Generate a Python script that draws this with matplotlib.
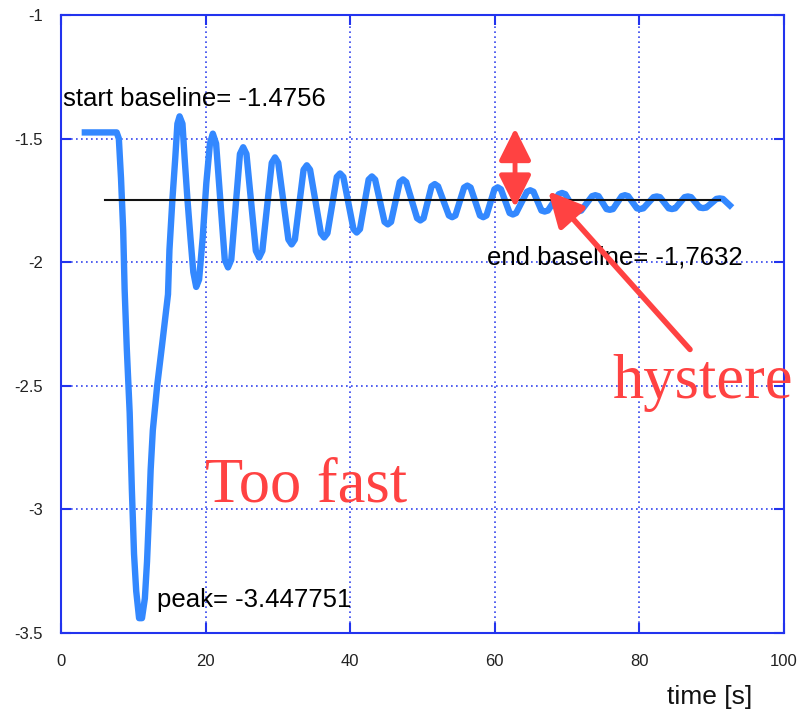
import matplotlib
matplotlib.use('Agg')
import matplotlib.pyplot as plt

# 読み取った波形（時間[s], 値）
time_s = [3.3, 7.7, 8.0, 8.3, 8.6, 8.8, 9.1, 9.5, 9.8, 10.1, 10.4, 10.8, 11.2,
          11.6, 11.9, 12.2, 12.4, 12.7, 13.3, 14.0, 14.8, 15.0, 15.4, 15.8, 16.1,
          16.4, 16.8, 17.1, 17.5, 17.9, 18.3, 18.7, 19.1, 19.6, 20.1, 20.6, 21.0, 21.45,
          22.65, 23.1, 23.55, 24.75, 25.2, 25.65, 26.95, 27.4, 27.85,
          29.15, 29.6, 30.05, 31.45, 31.9, 32.35, 33.55, 34.0, 34.45,
          35.95, 36.4, 36.85, 38.15, 38.6, 39.05, 40.45, 40.9, 41.35,
          42.55, 43.0, 43.45, 44.75, 45.2, 45.65, 46.85, 47.3, 47.75,
          49.25, 49.7, 50.15, 51.25, 51.7, 52.15, 53.65, 54.1, 54.55,
          55.75, 56.2, 56.65, 57.95, 58.4, 58.85, 59.95, 60.4, 60.85,
          62.05, 62.5, 62.95, 64.45, 64.9, 65.35, 66.45, 66.9, 67.35,
          68.85, 69.3, 69.75, 71.05, 71.5, 71.95, 73.45, 73.9, 74.35,
          75.45, 75.9, 76.35, 77.55, 78.0, 78.45, 79.65, 80.1, 80.55,
          81.95, 82.4, 82.85, 84.05, 84.5, 84.95, 86.25, 86.7, 87.15,
          88.35, 88.8, 89.25, 90.65, 91.1, 91.55, 92.5]
signal = [-1.475, -1.475, -1.50, -1.66, -1.87, -2.11, -2.35, -2.61, -2.92, -3.18, -3.33, -3.44, -3.44,
          -3.36, -3.21, -3.00, -2.84, -2.68, -2.50, -2.33, -2.13, -1.95, -1.75, -1.58, -1.44,
          -1.41, -1.44, -1.58, -1.75, -1.90, -2.04, -2.10, -2.07, -1.90, -1.68, -1.52, -1.48, -1.52,
          -1.990, -2.021, -1.990, -1.562, -1.535, -1.562, -1.954, -1.981, -1.954,
          -1.598, -1.576, -1.598, -1.908, -1.928, -1.908, -1.626, -1.608, -1.626,
          -1.883, -1.900, -1.883, -1.655, -1.641, -1.655, -1.866, -1.880, -1.866,
          -1.666, -1.653, -1.666, -1.837, -1.847, -1.837, -1.676, -1.665, -1.676,
          -1.822, -1.831, -1.822, -1.693, -1.684, -1.693, -1.811, -1.818, -1.811,
          -1.698, -1.690, -1.698, -1.811, -1.818, -1.811, -1.705, -1.697, -1.705,
          -1.801, -1.807, -1.801, -1.715, -1.709, -1.715, -1.791, -1.795, -1.791,
          -1.725, -1.720, -1.725, -1.791, -1.795, -1.791, -1.733, -1.729, -1.733,
          -1.785, -1.788, -1.785, -1.733, -1.729, -1.733, -1.782, -1.785, -1.782,
          -1.737, -1.734, -1.737, -1.782, -1.785, -1.782, -1.737, -1.734, -1.737,
          -1.779, -1.781, -1.779, -1.744, -1.742, -1.744, -1.770]

baseline_level = -1.75
baseline_span = [6.1, 91.1]

x_ticks = [0, 20, 40, 60, 80, 100]
x_ticklabels = ['0', '20', '40', '60', '80', '100']
y_ticks = [-1, -1.5, -2, -2.5, -3, -3.5]
y_ticklabels = ['-1', '-1.5', '-2', '-2.5', '-3', '-3.5']

blue = '#2233ee'
red = '#ff4242'

plt.rcParams['font.family'] = ['Liberation Sans', 'DejaVu Sans']

fig = plt.figure(figsize=(8, 7.15), dpi=100)
ax = fig.add_axes([61 / 800, 1 - 633 / 715, 723 / 800, 618 / 715])

ax.plot(time_s, signal, color='#3388ff', lw=4.6, solid_joinstyle='round', zorder=3)
ax.plot(baseline_span, [baseline_level, baseline_level], color='#111111', lw=1.5, zorder=4)

ax.set_xlim(0, 100)
ax.set_ylim(-3.5, -1)
ax.set_xticks(x_ticks)
ax.set_xticklabels(x_ticklabels)
ax.set_yticks(y_ticks)
ax.set_yticklabels(y_ticklabels)
ax.tick_params(axis='both', direction='in', length=7, width=1.5, color=blue,
               labelsize=12, labelcolor='#222222', top=True, right=True)
ax.tick_params(axis='x', pad=15)
ax.tick_params(axis='y', pad=13)
for sp in ax.spines.values():
    sp.set_color(blue)
    sp.set_linewidth(1.5)
ax.grid(True, color='#3344ee', linestyle=(0, (1, 2)), lw=1.2, zorder=1)
ax.set_axisbelow(True)

# 注釈
ax.text(0.3, -1.341, 'start baseline= -1.4756', fontsize=18.5, va='center', ha='left', zorder=5)
ax.text(58.9, -1.981, 'end baseline= -1,7632', fontsize=18.5, va='center', ha='left', zorder=5)
ax.text(13.3, -3.367, 'peak= -3.447751', fontsize=18.5, va='center', ha='left', zorder=5)
ax.text(19.9, -2.969, 'Too fast', fontsize=45, color=red, family='Liberation Serif',
        va='baseline', ha='left', zorder=5)
ax.text(76.2, -2.548, 'hystere', fontsize=45, color=red, family='Liberation Serif',
        va='baseline', ha='left', zorder=5, clip_on=False)

ax.annotate('', xy=(62.8, -1.458), xytext=(62.8, -1.778),
            arrowprops=dict(arrowstyle='<|-|>,head_length=1.3,head_width=0.65',
                            mutation_scale=15, lw=3.5, color=red, shrinkA=0, shrinkB=0),
            zorder=6)
ax.annotate('', xy=(67.4, -1.713), xytext=(87.0, -2.353),
            arrowprops=dict(arrowstyle='-|>,head_length=1.4,head_width=0.7',
                            mutation_scale=15, lw=4, color=red, shrinkA=0, shrinkB=0),
            zorder=6)

fig.text(710 / 800, 1 - 697 / 715, 'time [s]', fontsize=19, ha='center', va='center', color='#111111')

fig.savefig('out.png', dpi=100)
